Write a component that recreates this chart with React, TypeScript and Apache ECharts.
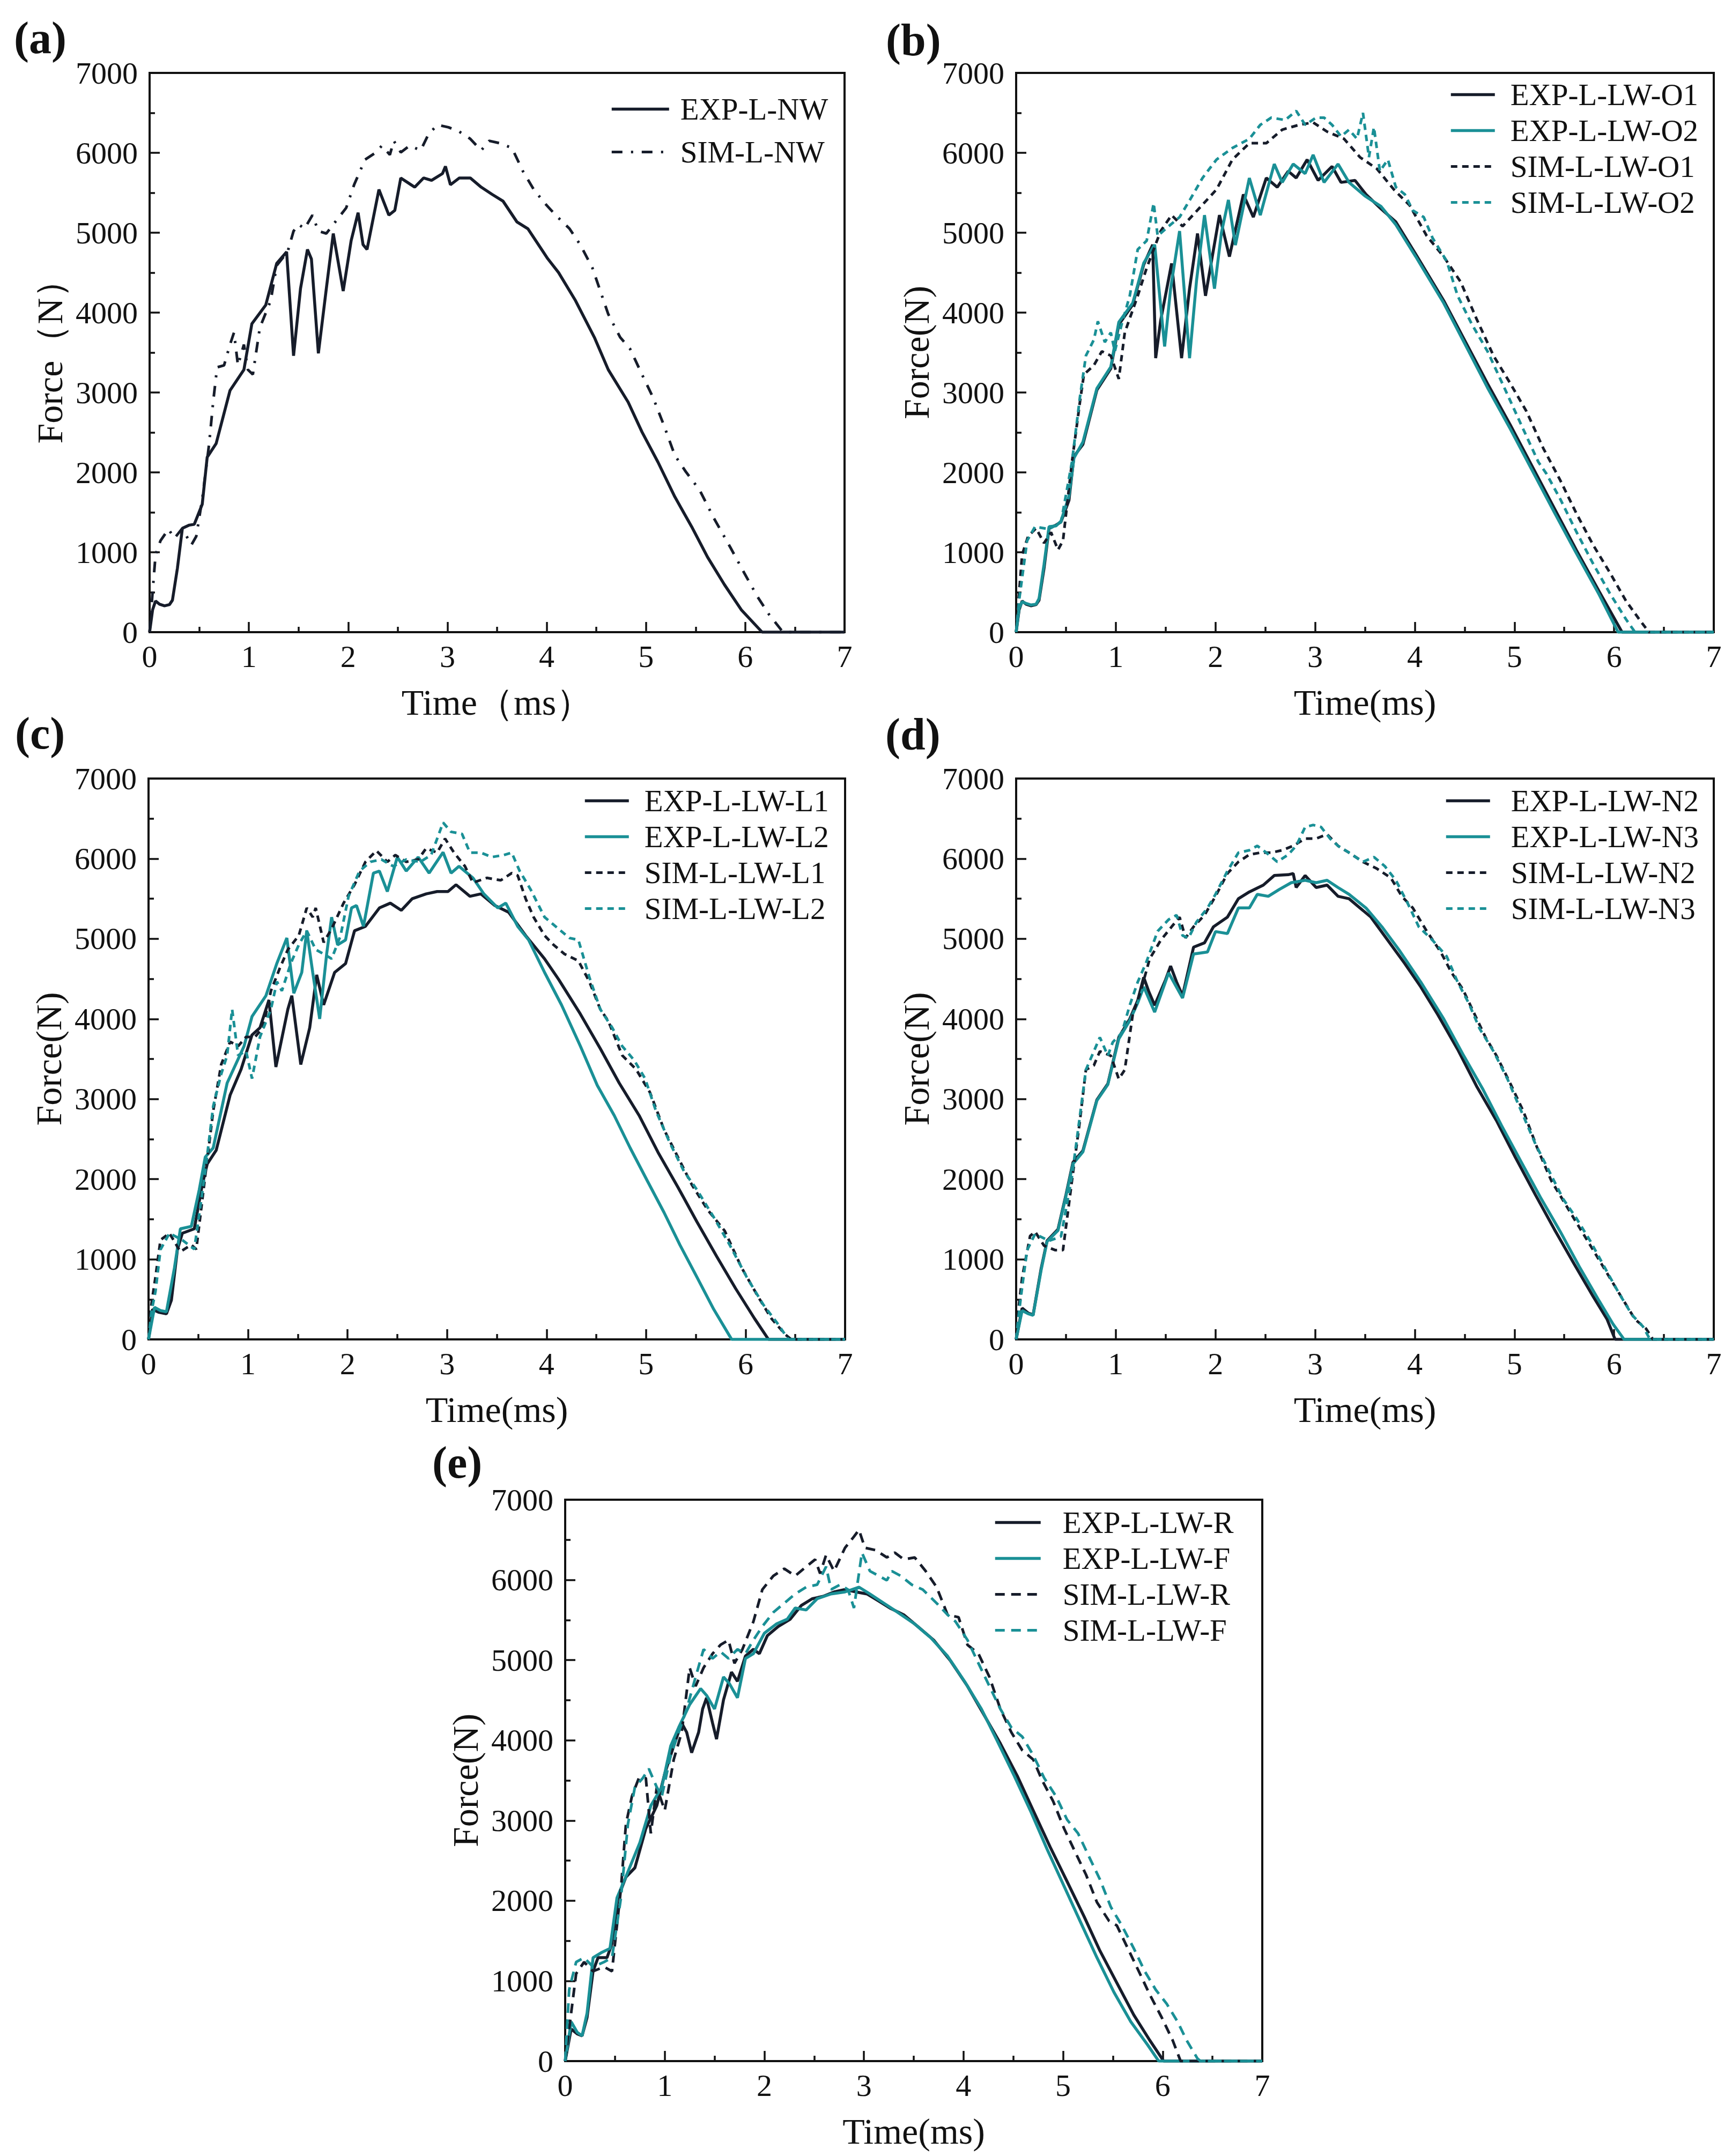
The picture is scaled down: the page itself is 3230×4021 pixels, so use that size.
import React, { useEffect, useRef } from "react";
import * as echarts from "echarts";

// ---------------- DATA (time in ms, force in N) ----------------
const X_TICKS = [0, 1, 2, 3, 4, 5, 6, 7];
const Y_TICKS = [0, 1000, 2000, 3000, 4000, 5000, 6000, 7000];

const A_EXP = [[0,0],[0.03,280],[0.06,390],[0.1,350],[0.15,330],[0.2,345],[0.23,400],[0.28,800],[0.33,1300],[0.4,1340],[0.45,1350],[0.53,1600],[0.58,2190],[0.67,2360],[0.81,3025],[0.95,3285],[1.03,3860],[1.17,4095],[1.28,4615],[1.38,4760],[1.45,3460],[1.52,4300],[1.59,4790],[1.63,4670],[1.70,3490],[1.78,4300],[1.85,4990],[1.95,4270],[2.03,4900],[2.10,5250],[2.15,4850],[2.19,4790],[2.31,5540],[2.41,5220],[2.47,5280],[2.53,5685],[2.67,5570],[2.76,5685],[2.84,5655],[2.95,5740],[2.98,5830],[3.03,5600],[3.12,5685],[3.23,5685],[3.34,5570],[3.45,5480],[3.56,5395],[3.70,5135],[3.81,5050],[4.01,4675],[4.12,4500],[4.29,4150],[4.48,3690],[4.62,3285],[4.82,2880],[4.96,2505],[5.12,2130],[5.29,1695],[5.46,1320],[5.62,940],[5.79,595],[5.96,280],[6.17,0],[7,0]];
const A_SIM = [[0,0],[0.03,500],[0.06,970],[0.11,1145],[0.19,1290],[0.25,1175],[0.33,1300],[0.42,1090],[0.47,1200],[0.53,1665],[0.60,2360],[0.64,2880],[0.68,3315],[0.75,3340],[0.81,3600],[0.85,3750],[0.89,3340],[0.95,3600],[0.99,3285],[1.04,3225],[1.11,3810],[1.22,4150],[1.28,4590],[1.39,4760],[1.45,5020],[1.50,5105],[1.56,5050],[1.64,5220],[1.70,5020],[1.78,4990],[1.87,5135],[1.98,5310],[2.06,5600],[2.17,5915],[2.28,6005],[2.34,6090],[2.42,5975],[2.46,6150],[2.53,6005],[2.62,6090],[2.73,6030],[2.81,6235],[2.90,6350],[3.01,6320],[3.12,6265],[3.23,6175],[3.34,6030],[3.42,6150],[3.53,6120],[3.65,6060],[3.76,5770],[3.87,5540],[3.98,5370],[4.09,5220],[4.23,5050],[4.34,4845],[4.46,4560],[4.54,4270],[4.62,3980],[4.74,3690],[4.84,3545],[4.96,3225],[5.07,2940],[5.18,2590],[5.29,2215],[5.40,2010],[5.54,1780],[5.68,1435],[5.85,1060],[5.99,740],[6.12,450],[6.24,220],[6.38,0],[7,0]];

const B_EXP1 = [[0,0],[0.03,280],[0.06,390],[0.1,350],[0.15,330],[0.2,345],[0.23,400],[0.28,800],[0.33,1300],[0.4,1340],[0.45,1380],[0.53,1650],[0.58,2200],[0.67,2350],[0.81,3030],[0.95,3300],[1.03,3850],[1.17,4100],[1.28,4600],[1.37,4850],[1.40,3430],[1.45,3900],[1.56,4615],[1.66,3430],[1.74,4300],[1.82,4990],[1.90,4210],[2.04,5220],[2.14,4700],[2.28,5480],[2.38,5195],[2.51,5685],[2.62,5570],[2.73,5770],[2.81,5685],[2.92,5915],[3.03,5655],[3.17,5830],[3.26,5630],[3.40,5655],[3.51,5480],[3.66,5300],[3.81,5135],[4.01,4730],[4.29,4150],[4.51,3630],[4.73,3110],[4.96,2590],[5.18,2070],[5.40,1550],[5.62,1030],[5.85,510],[6.08,0],[7,0]];
const B_EXP2 = [[0,0],[0.03,300],[0.06,380],[0.1,360],[0.15,340],[0.2,350],[0.23,420],[0.28,850],[0.33,1320],[0.4,1330],[0.45,1390],[0.53,1700],[0.58,2180],[0.67,2380],[0.81,3050],[0.95,3320],[1.03,3880],[1.17,4120],[1.28,4620],[1.39,4850],[1.49,3575],[1.55,4300],[1.64,5020],[1.74,3430],[1.81,4400],[1.89,5220],[1.99,4300],[2.06,5000],[2.13,5410],[2.20,4845],[2.34,5685],[2.45,5220],[2.59,5860],[2.67,5630],[2.78,5860],[2.90,5740],[2.98,5975],[3.09,5630],[3.23,5860],[3.34,5630],[3.50,5460],[3.66,5330],[3.81,5100],[4.01,4700],[4.29,4120],[4.51,3590],[4.73,3060],[4.96,2540],[5.18,2020],[5.40,1500],[5.62,990],[5.85,470],[6.04,0],[7,0]];
const B_SIM1 = [[0,0],[0.03,500],[0.06,970],[0.12,1200],[0.2,1300],[0.28,1115],[0.35,1250],[0.42,1030],[0.47,1145],[0.56,2130],[0.64,2880],[0.68,3225],[0.78,3340],[0.86,3515],[0.95,3460],[1.03,3170],[1.09,3750],[1.22,4210],[1.31,4560],[1.45,5020],[1.56,5220],[1.67,5080],[1.84,5310],[2.01,5540],[2.17,5915],[2.34,6120],[2.51,6120],[2.67,6290],[2.84,6350],[2.98,6380],[3.12,6265],[3.29,6175],[3.45,5945],[3.62,5800],[3.79,5540],[3.95,5340],[4.12,4960],[4.29,4700],[4.46,4385],[4.62,3920],[4.79,3460],[4.96,3110],[5.12,2765],[5.29,2300],[5.46,1900],[5.62,1490],[5.79,1090],[5.96,740],[6.12,390],[6.27,130],[6.35,0],[7,0]];
const B_SIM2 = [[0,0],[0.03,400],[0.06,680],[0.11,1145],[0.19,1320],[0.33,1290],[0.45,1375],[0.56,2130],[0.64,2940],[0.70,3460],[0.78,3660],[0.82,3890],[0.89,3630],[0.95,3750],[0.99,3515],[1.06,3860],[1.14,4210],[1.22,4790],[1.31,4900],[1.38,5370],[1.42,4960],[1.53,5080],[1.64,5195],[1.75,5425],[1.87,5685],[2.01,5915],[2.17,6060],[2.34,6175],[2.45,6350],[2.56,6440],[2.70,6410],[2.81,6525],[2.90,6350],[3.01,6440],[3.09,6440],[3.17,6350],[3.26,6205],[3.34,6290],[3.42,6175],[3.48,6500],[3.54,5945],[3.59,6320],[3.65,5770],[3.73,5915],[3.81,5570],[3.90,5480],[3.98,5280],[4.09,5195],[4.18,4930],[4.32,4645],[4.43,4210],[4.57,3860],[4.73,3515],[4.90,3055],[5.07,2590],[5.24,2130],[5.32,1985],[5.46,1665],[5.62,1260],[5.79,855],[5.96,480],[6.12,160],[6.21,0],[7,0]];

const C_EXP1 = [[0,0],[0.04,375],[0.1,340],[0.18,320],[0.23,490],[0.29,1120],[0.34,1325],[0.46,1380],[0.54,1930],[0.59,2190],[0.68,2360],[0.82,3050],[0.93,3370],[1.04,3800],[1.12,3890],[1.21,4235],[1.28,3400],[1.40,4120],[1.44,4290],[1.53,3430],[1.62,3890],[1.69,4550],[1.76,4175],[1.87,4580],[1.98,4690],[2.07,5100],[2.18,5155],[2.32,5385],[2.43,5445],[2.54,5355],[2.65,5500],[2.79,5560],[2.90,5590],[3.01,5590],[3.09,5675],[3.23,5530],[3.34,5560],[3.48,5415],[3.62,5330],[3.79,5040],[3.98,4750],[4.12,4495],[4.34,4060],[4.54,3630],[4.73,3200],[4.93,2795],[5.12,2335],[5.32,1900],[5.51,1470],[5.71,1035],[5.90,635],[6.09,260],[6.23,0],[7,0]];
const C_EXP2 = [[0,0],[0.06,400],[0.12,360],[0.18,345],[0.26,890],[0.32,1380],[0.43,1410],[0.51,1870],[0.57,2275],[0.65,2390],[0.79,3200],[0.96,3660],[1.04,4030],[1.18,4290],[1.29,4695],[1.39,5010],[1.46,4320],[1.54,4580],[1.59,5100],[1.65,4580],[1.72,4000],[1.79,4810],[1.84,5270],[1.90,4925],[1.98,4985],[2.04,5385],[2.09,5415],[2.16,5155],[2.26,5820],[2.32,5845],[2.40,5590],[2.50,6020],[2.59,5845],[2.71,6020],[2.82,5820],[2.96,6080],[3.04,5820],[3.12,5905],[3.26,5760],[3.37,5560],[3.51,5385],[3.59,5445],[3.71,5155],[3.82,4985],[3.98,4580],[4.15,4175],[4.34,3660],[4.51,3170],[4.68,2795],[4.84,2390],[5.01,1985],[5.18,1585],[5.34,1180],[5.51,780],[5.68,375],[5.86,0],[7,0]];
const C_SIM1 = [[0,0],[0.03,450],[0.07,780],[0.12,1240],[0.21,1325],[0.32,1095],[0.43,1180],[0.48,1125],[0.57,2045],[0.65,2850],[0.73,3430],[0.82,3715],[0.90,3660],[0.98,3775],[1.07,3775],[1.15,3890],[1.23,4350],[1.32,4635],[1.40,4865],[1.51,5040],[1.59,5385],[1.65,5270],[1.68,5385],[1.76,4955],[1.84,5125],[1.96,5445],[2.07,5675],[2.18,5960],[2.29,6100],[2.40,5960],[2.48,6045],[2.59,5960],[2.71,5990],[2.79,6130],[2.90,6075],[2.98,6250],[3.07,6075],[3.18,5905],[3.26,5700],[3.40,5760],[3.54,5730],[3.65,5820],[3.71,5790],[3.79,5500],[3.87,5270],[3.98,5040],[4.07,4925],[4.18,4810],[4.32,4725],[4.43,4465],[4.54,4120],[4.62,3975],[4.76,3545],[4.90,3370],[5.04,3080],[5.18,2620],[5.32,2275],[5.46,1930],[5.62,1615],[5.79,1355],[5.96,895],[6.12,545],[6.26,260],[6.40,60],[6.46,0],[7,0]];
const C_SIM2 = [[0,0],[0.03,350],[0.07,600],[0.12,1120],[0.21,1325],[0.34,1240],[0.46,1125],[0.57,2100],[0.65,2910],[0.73,3310],[0.79,3545],[0.84,4120],[0.90,3545],[0.98,3600],[1.04,3255],[1.12,3775],[1.23,4120],[1.29,4465],[1.34,4350],[1.43,4695],[1.51,4925],[1.59,5100],[1.68,4865],[1.76,4810],[1.84,4750],[1.93,5040],[2.01,5530],[2.12,5845],[2.23,5960],[2.34,5990],[2.46,5905],[2.59,5990],[2.73,5960],[2.84,6045],[2.96,6450],[3.04,6335],[3.15,6310],[3.23,6075],[3.34,6075],[3.45,6020],[3.57,6045],[3.65,6075],[3.73,5845],[3.84,5615],[3.98,5270],[4.09,5155],[4.23,5010],[4.32,4985],[4.43,4520],[4.54,4120],[4.66,3890],[4.76,3660],[4.88,3485],[4.99,3255],[5.10,2850],[5.24,2450],[5.38,2100],[5.51,1870],[5.68,1525],[5.84,1180],[6.01,780],[6.18,430],[6.32,200],[6.43,0],[7,0]];

const D_EXP1 = [[0,0],[0.06,390],[0.12,330],[0.17,305],[0.25,880],[0.31,1230],[0.42,1375],[0.50,1805],[0.57,2210],[0.67,2355],[0.81,2990],[0.92,3190],[1.03,3770],[1.14,4000],[1.22,4230],[1.28,4520],[1.33,4345],[1.39,4170],[1.50,4490],[1.55,4660],[1.61,4460],[1.67,4290],[1.78,4895],[1.89,4950],[1.98,5150],[2.12,5270],[2.23,5500],[2.34,5585],[2.48,5670],[2.59,5790],[2.73,5800],[2.78,5815],[2.81,5640],[2.90,5790],[3.01,5640],[3.12,5670],[3.23,5530],[3.34,5500],[3.45,5385],[3.56,5270],[3.73,4980],[3.90,4690],[4.06,4400],[4.23,4055],[4.43,3620],[4.62,3160],[4.82,2730],[5.01,2270],[5.21,1805],[5.40,1375],[5.60,940],[5.79,535],[5.93,250],[6.01,0],[7,0]];
const D_EXP2 = [[0,0],[0.06,360],[0.12,320],[0.17,300],[0.25,860],[0.31,1220],[0.42,1360],[0.50,1790],[0.57,2190],[0.67,2340],[0.81,2980],[0.92,3180],[1.03,3750],[1.14,3980],[1.22,4200],[1.28,4400],[1.39,4085],[1.53,4575],[1.67,4260],[1.78,4810],[1.92,4835],[2.00,5090],[2.12,5065],[2.23,5385],[2.34,5385],[2.42,5555],[2.53,5530],[2.64,5615],[2.76,5700],[2.90,5730],[3.01,5700],[3.12,5730],[3.23,5640],[3.34,5555],[3.51,5385],[3.67,5150],[3.84,4865],[4.06,4460],[4.29,4000],[4.48,3565],[4.68,3130],[4.87,2670],[5.07,2210],[5.26,1775],[5.46,1345],[5.65,910],[5.85,480],[5.99,190],[6.10,0],[7,0]];
const D_SIM1 = [[0,0],[0.03,450],[0.06,770],[0.14,1290],[0.19,1345],[0.28,1170],[0.39,1115],[0.47,1115],[0.56,1980],[0.64,2730],[0.70,3365],[0.78,3420],[0.84,3595],[0.95,3540],[1.03,3250],[1.09,3365],[1.17,4055],[1.25,4345],[1.34,4750],[1.45,4980],[1.56,5150],[1.64,5270],[1.70,5010],[1.78,5150],[1.89,5295],[2.00,5530],[2.12,5815],[2.23,5960],[2.34,6050],[2.45,6075],[2.56,6075],[2.67,6105],[2.78,6160],[2.90,6250],[3.01,6250],[3.12,6305],[3.23,6160],[3.34,6075],[3.48,5960],[3.62,5875],[3.76,5760],[3.87,5530],[3.98,5385],[4.12,5095],[4.26,4835],[4.37,4575],[4.48,4375],[4.59,4085],[4.71,3770],[4.82,3540],[4.96,3190],[5.09,2845],[5.23,2385],[5.37,1980],[5.51,1690],[5.65,1400],[5.79,1115],[5.93,825],[6.07,535],[6.21,250],[6.32,135],[6.39,0],[7,0]];
const D_SIM2 = [[0,0],[0.03,350],[0.06,650],[0.11,1115],[0.19,1315],[0.33,1230],[0.45,1285],[0.56,2035],[0.64,2790],[0.70,3365],[0.78,3595],[0.84,3770],[0.92,3540],[0.97,3710],[1.06,3825],[1.14,4170],[1.22,4460],[1.31,4720],[1.42,5095],[1.53,5240],[1.61,5295],[1.67,5040],[1.73,5010],[1.81,5210],[1.92,5385],[2.00,5555],[2.12,5845],[2.23,6075],[2.34,6105],[2.42,6160],[2.51,6075],[2.62,5960],[2.73,6050],[2.81,6160],[2.90,6395],[2.98,6420],[3.06,6395],[3.15,6250],[3.23,6160],[3.34,6075],[3.48,5960],[3.59,6020],[3.70,5905],[3.81,5730],[3.93,5440],[4.04,5150],[4.18,4980],[4.32,4780],[4.43,4460],[4.54,4200],[4.65,3880],[4.79,3595],[4.93,3250],[5.07,2845],[5.21,2440],[5.35,2095],[5.49,1750],[5.62,1515],[5.76,1230],[5.90,910],[6.04,595],[6.18,305],[6.29,160],[6.36,0],[7,0]];

const E_EXP1 = [[0,0],[0.06,400],[0.12,340],[0.17,315],[0.22,545],[0.28,1120],[0.33,1290],[0.42,1290],[0.47,1465],[0.53,2035],[0.61,2295],[0.70,2410],[0.81,2900],[0.92,3185],[1.00,3585],[1.09,3930],[1.17,4215],[1.22,4100],[1.27,3845],[1.34,4100],[1.38,4390],[1.42,4530],[1.48,4215],[1.52,4015],[1.59,4505],[1.67,4850],[1.73,4735],[1.81,5050],[1.89,5135],[1.95,5080],[2.03,5305],[2.14,5420],[2.26,5510],[2.37,5680],[2.48,5765],[2.59,5795],[2.70,5850],[2.81,5880],[2.92,5850],[3.03,5825],[3.15,5735],[3.26,5650],[3.40,5565],[3.54,5420],[3.70,5250],[3.87,4990],[4.04,4675],[4.20,4330],[4.37,3960],[4.54,3555],[4.70,3125],[4.87,2670],[5.04,2240],[5.21,1805],[5.37,1375],[5.54,975],[5.71,575],[5.87,260],[6.01,0],[7,0]];
const E_EXP2 = [[0,0],[0.06,490],[0.12,360],[0.17,315],[0.22,600],[0.28,1290],[0.36,1350],[0.45,1405],[0.52,2035],[0.61,2300],[0.75,2725],[0.86,3185],[0.97,3415],[1.06,3930],[1.14,4160],[1.25,4445],[1.36,4645],[1.42,4560],[1.50,4390],[1.59,4790],[1.65,4705],[1.73,4530],[1.81,5020],[1.89,5080],[2.00,5335],[2.12,5450],[2.23,5510],[2.31,5650],[2.42,5625],[2.53,5765],[2.67,5825],[2.81,5850],[2.95,5910],[3.06,5825],[3.20,5710],[3.34,5595],[3.51,5450],[3.67,5280],[3.84,5050],[4.01,4735],[4.18,4390],[4.34,3990],[4.51,3555],[4.68,3100],[4.84,2640],[5.01,2180],[5.18,1720],[5.34,1290],[5.51,860],[5.68,490],[5.85,200],[5.96,0],[7,0]];
const E_SIM1 = [[0,0],[0.06,600],[0.11,1090],[0.19,1235],[0.28,1120],[0.39,1175],[0.47,1120],[0.56,2150],[0.61,2955],[0.67,3300],[0.74,3530],[0.81,3530],[0.86,2840],[0.92,3415],[1.00,3125],[1.09,3760],[1.17,4100],[1.25,4905],[1.31,4675],[1.39,4905],[1.48,5080],[1.56,5190],[1.64,5250],[1.70,4960],[1.78,5135],[1.89,5480],[1.98,5880],[2.09,6050],[2.20,6140],[2.31,6050],[2.42,6165],[2.51,6255],[2.56,6080],[2.62,6310],[2.70,6110],[2.81,6400],[2.90,6540],[2.95,6625],[3.01,6400],[3.12,6370],[3.23,6280],[3.31,6340],[3.40,6255],[3.51,6280],[3.62,6110],[3.73,5910],[3.84,5565],[3.95,5535],[4.04,5190],[4.15,5080],[4.26,4790],[4.37,4390],[4.48,4100],[4.59,3875],[4.70,3760],[4.79,3500],[4.90,3240],[5.01,2900],[5.12,2610],[5.23,2325],[5.34,1980],[5.46,1750],[5.54,1690],[5.65,1405],[5.76,1120],[5.87,830],[5.99,545],[6.10,260],[6.18,0],[7,0]];
const E_SIM2 = [[0,0],[0.04,890],[0.11,1235],[0.19,1290],[0.28,1175],[0.39,1235],[0.47,1290],[0.56,2035],[0.63,2955],[0.70,3415],[0.78,3530],[0.84,3645],[0.92,3415],[0.97,3300],[1.06,3815],[1.14,4100],[1.22,4390],[1.31,4790],[1.39,5135],[1.48,5020],[1.56,5105],[1.64,5020],[1.73,5135],[1.81,5080],[1.89,5250],[1.98,5420],[2.09,5595],[2.20,5710],[2.31,5825],[2.42,5910],[2.53,5940],[2.62,6165],[2.67,5880],[2.76,5940],[2.84,5880],[2.90,5650],[2.98,6340],[3.06,6110],[3.15,6050],[3.23,5995],[3.28,6110],[3.37,6050],[3.48,5940],[3.59,5880],[3.73,5710],[3.84,5565],[3.92,5480],[4.04,5250],[4.15,4960],[4.26,4675],[4.37,4390],[4.48,4160],[4.59,4045],[4.70,3815],[4.81,3530],[4.93,3300],[5.04,3010],[5.15,2840],[5.26,2550],[5.37,2265],[5.48,1920],[5.59,1690],[5.71,1405],[5.82,1120],[5.93,890],[6.04,715],[6.15,490],[6.24,260],[6.35,30],[6.38,0],[7,0]];

// ---------------- STYLE / LAYOUT ----------------
const FONT = "'Liberation Serif', 'Times New Roman', serif";
const TXT = "#111111";
const DARK = "#161c2a";
const TEAL = "#1a9096";
const DASH_DOT = [20, 16, 4, 16];
const DASH_SHORT = [12, 9];
const DASH_LONG = [18, 12];

type S = { name: string; data: number[][]; color: string; dash: any; width: number };

const panels: {
  label: string; lx: number; ly: number;
  grid: { left: number; top: number; width: number; height: number };
  legend: { left: number; top: number; itemWidth: number; itemGap: number; pad: number };
  xName: string; yName: string; series: S[];
}[] = [
  {
    label: "(a)", lx: 26, ly: 70,
    grid: { left: 279, top: 136, width: 1296, height: 1043 },
    legend: { left: 1138, top: 175, itemWidth: 107, itemGap: 23, pad: 16 },
    xName: "Time（ms）", yName: "Force（N）",
    series: [
      { name: "EXP-L-NW", data: A_EXP, color: DARK, dash: "solid", width: 5.5 },
      { name: "SIM-L-NW", data: A_SIM, color: DARK, dash: DASH_DOT, width: 5 },
    ],
  },
  {
    label: "(b)", lx: 1652, ly: 74,
    grid: { left: 1895, top: 136, width: 1301, height: 1043 },
    legend: { left: 2703, top: 148, itemWidth: 82, itemGap: 10, pad: 24 },
    xName: "Time(ms)", yName: "Force(N)",
    series: [
      { name: "EXP-L-LW-O1", data: B_EXP1, color: DARK, dash: "solid", width: 5.5 },
      { name: "EXP-L-LW-O2", data: B_EXP2, color: TEAL, dash: "solid", width: 5.5 },
      { name: "SIM-L-LW-O1", data: B_SIM1, color: DARK, dash: DASH_SHORT, width: 5 },
      { name: "SIM-L-LW-O2", data: B_SIM2, color: TEAL, dash: DASH_SHORT, width: 5 },
    ],
  },
  {
    label: "(c)", lx: 28, ly: 1367,
    grid: { left: 277, top: 1452, width: 1299, height: 1046 },
    legend: { left: 1088, top: 1465, itemWidth: 82, itemGap: 10, pad: 24 },
    xName: "Time(ms)", yName: "Force(N)",
    series: [
      { name: "EXP-L-LW-L1", data: C_EXP1, color: DARK, dash: "solid", width: 5.5 },
      { name: "EXP-L-LW-L2", data: C_EXP2, color: TEAL, dash: "solid", width: 5.5 },
      { name: "SIM-L-LW-L1", data: C_SIM1, color: DARK, dash: DASH_SHORT, width: 5 },
      { name: "SIM-L-LW-L2", data: C_SIM2, color: TEAL, dash: DASH_SHORT, width: 5 },
    ],
  },
  {
    label: "(d)", lx: 1651, ly: 1369,
    grid: { left: 1895, top: 1452, width: 1301, height: 1046 },
    legend: { left: 2694, top: 1465, itemWidth: 82, itemGap: 10, pad: 34 },
    xName: "Time(ms)", yName: "Force(N)",
    series: [
      { name: "EXP-L-LW-N2", data: D_EXP1, color: DARK, dash: "solid", width: 5.5 },
      { name: "EXP-L-LW-N3", data: D_EXP2, color: TEAL, dash: "solid", width: 5.5 },
      { name: "SIM-L-LW-N2", data: D_SIM1, color: DARK, dash: DASH_SHORT, width: 5 },
      { name: "SIM-L-LW-N3", data: D_SIM2, color: TEAL, dash: DASH_SHORT, width: 5 },
    ],
  },
  {
    label: "(e)", lx: 806, ly: 2727,
    grid: { left: 1054, top: 2797, width: 1300, height: 1047 },
    legend: { left: 1853, top: 2811, itemWidth: 85, itemGap: 10, pad: 36 },
    xName: "Time(ms)", yName: "Force(N)",
    series: [
      { name: "EXP-L-LW-R", data: E_EXP1, color: DARK, dash: "solid", width: 5.5 },
      { name: "EXP-L-LW-F", data: E_EXP2, color: TEAL, dash: "solid", width: 5.5 },
      { name: "SIM-L-LW-R", data: E_SIM1, color: DARK, dash: DASH_LONG, width: 5 },
      { name: "SIM-L-LW-F", data: E_SIM2, color: TEAL, dash: DASH_LONG, width: 5 },
    ],
  },
];

function buildOption() {
  const grid: any[] = [];
  const xAxis: any[] = [];
  const yAxis: any[] = [];
  const legend: any[] = [];
  const series: any[] = [];
  const graphic: any[] = [];

  const axisCommon = {
    type: "value",
    nameLocation: "middle",
    nameTextStyle: { fontFamily: FONT, fontSize: 68, color: TXT },
    axisLine: { show: true, lineStyle: { color: TXT, width: 4 } },
    axisTick: { show: true, inside: true, length: 19, lineStyle: { color: TXT, width: 3.5 } },
    minorTick: { show: true, splitNumber: 2, length: 10, lineStyle: { color: TXT, width: 3.5 } },
    splitLine: { show: false },
    minorSplitLine: { show: false },
  };

  panels.forEach((p, i) => {
    grid.push({
      ...p.grid,
      show: true,
      borderColor: TXT,
      borderWidth: 4,
      backgroundColor: "transparent",
      containLabel: false,
    });
    xAxis.push({
      ...axisCommon,
      gridIndex: i,
      min: X_TICKS[0],
      max: X_TICKS[X_TICKS.length - 1],
      interval: X_TICKS[1] - X_TICKS[0],
      name: p.xName,
      nameGap: 97,
      axisLabel: { fontFamily: FONT, fontSize: 58, color: TXT, margin: 16, formatter: (v: number) => String(v) },
    });
    yAxis.push({
      ...axisCommon,
      gridIndex: i,
      min: Y_TICKS[0],
      max: Y_TICKS[Y_TICKS.length - 1],
      interval: Y_TICKS[1] - Y_TICKS[0],
      name: p.yName,
      nameGap: 152,
      nameRotate: 90,
      axisLabel: { fontFamily: FONT, fontSize: 58, color: TXT, margin: 22, formatter: (v: number) => String(v) },
    });
    legend.push({
      orient: "vertical",
      left: p.legend.left,
      top: p.legend.top,
      padding: 0,
      itemWidth: p.legend.itemWidth,
      itemHeight: 14,
      itemGap: p.legend.itemGap,
      align: "left",
      selectedMode: false,
      data: p.series.map((s) => ({
        name: s.name,
        lineStyle: { color: s.color, width: s.width, type: s.dash },
      })),
      lineStyle: { width: 5 },
      itemStyle: { opacity: 0 },
      textStyle: { fontFamily: FONT, fontSize: 57, color: TXT, lineHeight: 57, padding: [0, 0, 0, p.legend.pad] },
    });
    p.series.forEach((s, k) => {
      series.push({
        name: s.name,
        type: "line",
        xAxisIndex: i,
        yAxisIndex: i,
        data: s.data,
        symbol: "none",
        showSymbol: false,
        smooth: false,
        z: 2 + k,
        itemStyle: { color: s.color },
        lineStyle: { color: s.color, width: s.width, type: s.dash },
      });
    });
    graphic.push({
      type: "text",
      x: p.lx,
      y: p.ly,
      style: {
        text: p.label,
        fontFamily: FONT,
        fontWeight: "bold",
        fontSize: 84,
        fill: TXT,
        verticalAlign: "middle",
        align: "left",
      },
    });
  });

  return {
    animation: false,
    backgroundColor: "#ffffff",
    grid,
    xAxis,
    yAxis,
    legend,
    series,
    graphic,
  };
}

export default function App() {
  const ref = useRef<HTMLDivElement>(null);
  useEffect(() => {
    if (!ref.current) return;
    const chart = echarts.init(ref.current, null, { renderer: "svg" });
    chart.setOption(buildOption() as any);
    return () => chart.dispose();
  }, []);
  return (
    <div
      ref={ref}
      style={{ position: "absolute", left: 0, top: 0, width: 3230, height: 4021, background: "#ffffff" }}
    />
  );
}
